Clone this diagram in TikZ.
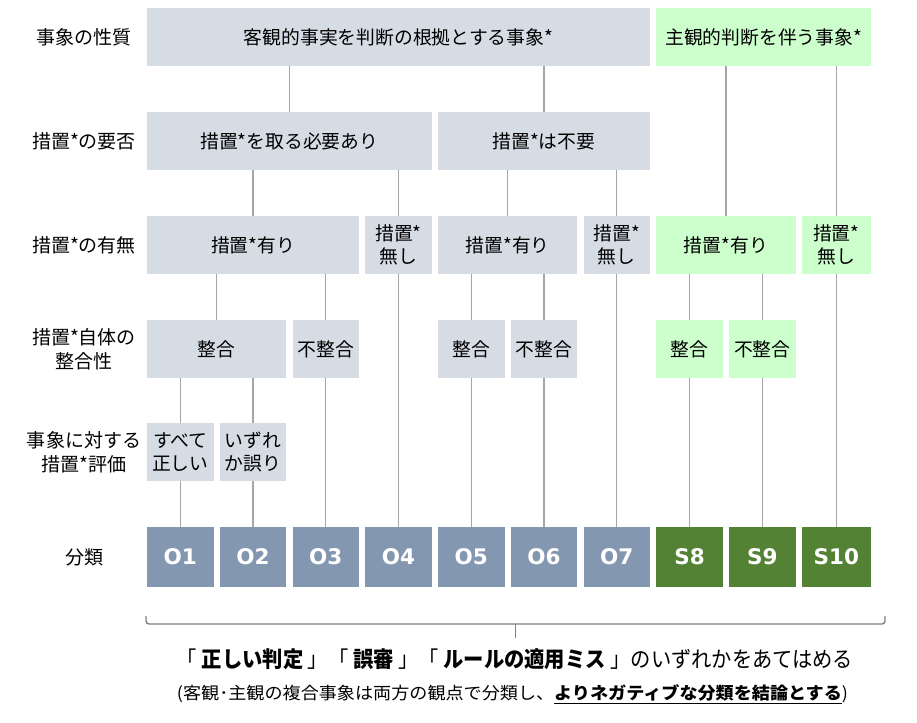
\documentclass[tikz,border=0pt]{standalone}
\usepackage{fontspec}
\usepackage{graphicx}
\setmainfont{Noto Sans CJK JP}
\newfontfamily\labfont{DejaVu Sans}
\definecolor{boxgray}{HTML}{D6DCE4}
\definecolor{boxgreen}{HTML}{CCFFCC}
\definecolor{ogray}{HTML}{8497B0}
\definecolor{sgreen}{HTML}{548235}
\definecolor{linegray}{HTML}{A6A6A6}
\definecolor{brkgray}{HTML}{7F7F7F}
\begin{document}
\begin{tikzpicture}[x=1pt,y=-1pt,
  box/.style={inner sep=0pt, align=center, text=black, minimum height=58pt, font=\fontsize{18.8}{23}\selectfont},
  gbox/.style={box, fill=boxgray},
  sbox/.style={box, fill=boxgreen},
  obox/.style={inner sep=0pt, fill=ogray, text=white, minimum height=60pt, font=\labfont\bfseries\fontsize{21.5}{24}\selectfont},
  ssbox/.style={obox, fill=sgreen},
  w1/.style={minimum width=66.5pt},
  lab/.style={inner sep=0pt, align=center, text=black, font=\fontsize{19}{24}\selectfont},
  conn/.style={draw=linegray, line width=1.4pt},
  brk/.style={draw=brkgray, line width=1.4pt, rounded corners=3pt},
  note/.style={inner sep=0pt, text=black}
]
\useasboundingbox (0,0) rectangle (917,722);

% row labels
\node[lab] (l1) at (84,37) {事象の性質};
\node[lab] (l2) at (84,141) {措置*の要否};
\node[lab] (l3) at (84,245) {措置*の有無};
\node[lab] (l4) at (84,349) {措置*自体の\\整合性};
\node[lab] (l5) at (84,452) {事象に対する\\措置*評価};
\node[lab] (l6) at (84,557) {分類};

% row 1
\node[gbox, minimum width=503pt] (obj) at (398.5,37) {客観的事実を判断の根拠とする事象*};
\node[sbox, minimum width=214.75pt] (subj) at (763.625,37) {主観的判断を伴う事象*};

% row 2
\node[gbox, minimum width=284.75pt] (req) at (289.375,141) {措置*を取る必要あり};
\node[gbox, minimum width=212pt] (noreq) at (544,141) {措置*は不要};

% row 3
\node[gbox, minimum width=212pt] (r3a) at (253,245) {措置*有り};
\node[gbox, w1] (r3b) at (398.5,245) {措置*\\無し};
\node[gbox, minimum width=139.25pt] (r3c) at (507.625,245) {措置*有り};
\node[gbox, w1] (r3d) at (616.75,245) {措置*\\無し};
\node[sbox, minimum width=139.25pt] (r3e) at (725.875,245) {措置*有り};
\node[sbox, minimum width=69.25pt] (r3f) at (836.375,245) {措置*\\無し};

% row 4
\node[gbox, minimum width=139.25pt] (r4a) at (216.625,349) {整合};
\node[gbox, w1] (r4b) at (325.75,349) {不整合};
\node[gbox, w1] (r4c) at (471.25,349) {整合};
\node[gbox, w1] (r4d) at (544,349) {不整合};
\node[sbox, w1] (r4e) at (689.5,349) {整合};
\node[sbox, w1] (r4f) at (762.25,349) {不整合};

% row 5
\node[gbox, w1] (r5a) at (180.25,452) {すべて\\正しい};
\node[gbox, w1] (r5b) at (253,452) {いずれ\\か誤り};

% row 6
\node[obox, w1] (c1) at (180.25,557) {O1};
\node[obox, w1] (c2) at (253,557) {O2};
\node[obox, w1] (c3) at (325.75,557) {O3};
\node[obox, w1] (c4) at (398.5,557) {O4};
\node[obox, w1] (c5) at (471.25,557) {O5};
\node[obox, w1] (c6) at (544,557) {O6};
\node[obox, w1] (c7) at (616.75,557) {O7};
\node[ssbox, w1] (c8) at (689.5,557) {S8};
\node[ssbox, w1] (c9) at (762.25,557) {S9};
\node[ssbox, minimum width=69.25pt] (c10) at (836.375,557) {S10};

% connectors
\foreach \p/\c in {obj/req, obj/noreq, subj/r3e, subj/r3f,
  req/r3a, req/r3b, noreq/r3c, noreq/r3d,
  r3a/r4a, r3a/r4b, r3c/r4c, r3c/r4d, r3e/r4e, r3e/r4f,
  r4a/r5a, r4a/r5b,
  r5a/c1, r5b/c2, r4b/c3, r3b/c4, r4c/c5, r4d/c6, r3d/c7, r4e/c8, r4f/c9, r3f/c10}
  \draw[conn] (\c.north |- \p.south) -- (\c.north);

% bracket
\coordinate (bl) at (146,616);
\coordinate (blc) at (146,624);
\coordinate (brc) at (885,624);
\coordinate (br) at (885,616);
\coordinate (bm) at (515.5,624);
\coordinate (bt) at (515.5,638);
\draw[brk] (bl) -- (blc) -- (brc) -- (br);
\draw[draw=brkgray, line width=1.4pt] (bm) -- (bt);

% notes
\node[note] (t1) at (515,659) {\resizebox{676pt}{\height}{\fontsize{22}{26}\selectfont 「\textbf{ 正しい判定 }」「\textbf{ 誤審 }」「\textbf{ ルールの適用ミス }」のいずれかをあてはめる}};
\node[note] (t2) at (512.5,694) {\resizebox{671pt}{\height}{\fontsize{17}{20}\selectfont (客観･主観の複合事象は両方の観点で分類し、\underline{\textbf{よりネガティブな分類を結論とする}})}};
\end{tikzpicture}
\end{document}
